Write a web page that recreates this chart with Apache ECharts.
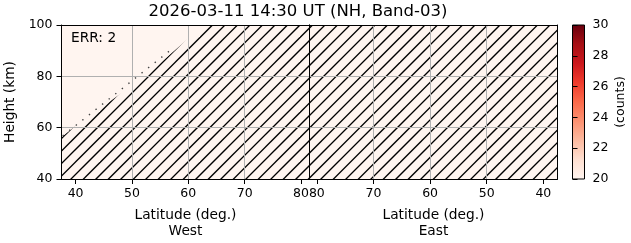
<!DOCTYPE html>
<html><head><meta charset="utf-8">
<script src="https://cdn.jsdelivr.net/npm/echarts@6/dist/echarts.min.js"></script>
<style>html,body{margin:0;padding:0;background:#fff}#c{width:631px;height:243px}</style>
</head><body><div id="c"></div>
<script>
// ---- data ----
const titleText = '2026-03-11 14:30 UT (NH, Band-03)';
const errText = 'ERR: 2';
const latTicks = [40, 50, 60, 70, 80];
const heightTicks = [40, 60, 80, 100];
const countTicks = [20, 22, 24, 26, 28, 30];
const countRange = [20, 30];
const fieldCounts = 20;
const westLatRange = [37.5, 81.5];
const eastLatRange = [37.5, 81.3];
const heightRange = [40, 100];
// upper edge of the no-data (hatched) area in the West panel
const westGapLat = [37.5, 39.6, 52.3, 62.8];
const westGapHeight = [56.3, 60, 80, 100];
// dotted trace in the West panel
const dotLat = [37.7, 57.3];
const dotHeight = [56.8, 91.0];
const redsStops = ['#fff5f0','#fee0d2','#fcbba1','#fc9272','#fb6a4a','#ef3b2c','#cb181d','#a50f15','#67000d'];

// ---- helpers ----
const FONT = 'DejaVu Sans';
function hexToRgb(h){return [parseInt(h.slice(1,3),16),parseInt(h.slice(3,5),16),parseInt(h.slice(5,7),16)];}
function redsColor(v){
  let t=(v-countRange[0])/(countRange[1]-countRange[0]); t=Math.max(0,Math.min(1,t));
  const p=t*(redsStops.length-1); const i=Math.min(Math.floor(p),redsStops.length-2); const f=p-i;
  const a=hexToRgb(redsStops[i]), b=hexToRgb(redsStops[i+1]);
  return 'rgb('+a.map((x,k)=>Math.round(x+(b[k]-x)*f)).join(',')+')';
}
function makeHatch(){
  const c=document.createElement('canvas'); c.width=100; c.height=100;
  const g=c.getContext('2d'); g.strokeStyle='#000'; g.lineWidth=1.3;
  for(let k=-1;k<=17;k++){const s=k*100/8; g.beginPath(); g.moveTo(s+10,-10); g.lineTo(-10,s+10); g.stroke();}
  return c;
}
const hatch={image:makeHatch(),repeat:'repeat'};
const fieldColor=redsColor(fieldCounts);

function rectPoly(api,xr){
  return [api.coord([xr[0],heightRange[0]]),api.coord([xr[0],heightRange[1]]),api.coord([xr[1],heightRange[1]]),api.coord([xr[1],heightRange[0]])];
}

const chart=echarts.init(document.getElementById('c'),null,{renderer:'canvas'});
const gridLine={show:true,lineStyle:{color:'#b0b0b0',width:1},showMinLine:false,showMaxLine:false};
const lab={color:'#000',fontSize:12.5,fontFamily:FONT};
const nameStyle={color:'#000',fontSize:13.75,fontFamily:FONT,lineHeight:16};
function lineOnly(o){return Object.assign({type:'value',axisLine:{show:true,onZero:false,lineStyle:{color:'#000',width:1}},axisTick:{show:false},axisLabel:{show:false},splitLine:{show:false},z:6},o);}

chart.setOption({
  animation:false,
  backgroundColor:'#fff',
  grid:[
    {left:61.5,top:25,width:248,height:154,outerBoundsMode:'none'},
    {left:309.5,top:25,width:248,height:154,outerBoundsMode:'none'},
    {left:572.5,top:25,width:12,height:154,outerBoundsMode:'none'}
  ],
  xAxis:[
    {gridIndex:0,type:'value',position:'bottom',min:westLatRange[0],max:westLatRange[1],
     axisLine:{show:true,onZero:false,lineStyle:{color:'#000',width:1}},
     axisTick:{show:true,inside:false,length:5,customValues:latTicks,lineStyle:{color:'#000'}},
     axisLabel:Object.assign({customValues:latTicks,margin:8},lab),
     splitLine:gridLine,
     name:'Latitude (deg.)\nWest',nameLocation:'middle',nameGap:28,
     nameTextStyle:nameStyle,z:5},
    lineOnly({gridIndex:0,position:'top',min:westLatRange[0],max:westLatRange[1]}),
    {gridIndex:1,type:'value',position:'bottom',inverse:true,min:eastLatRange[0],max:eastLatRange[1],
     axisLine:{show:true,onZero:false,lineStyle:{color:'#000',width:1}},
     axisTick:{show:true,inside:false,length:5,customValues:latTicks,lineStyle:{color:'#000'}},
     axisLabel:Object.assign({customValues:latTicks,margin:8},lab),
     splitLine:gridLine,
     name:'Latitude (deg.)\nEast',nameLocation:'middle',nameGap:28,
     nameTextStyle:nameStyle,z:5},
    lineOnly({gridIndex:1,position:'top',inverse:true,min:eastLatRange[0],max:eastLatRange[1]}),
    {gridIndex:2,type:'value',min:0,max:1,show:false}
  ],
  yAxis:[
    {gridIndex:0,type:'value',position:'left',min:heightRange[0],max:heightRange[1],interval:20,
     axisLine:{show:true,onZero:false,lineStyle:{color:'#000',width:1}},
     axisTick:{show:true,inside:false,length:5,lineStyle:{color:'#000'}},
     axisLabel:Object.assign({margin:9},lab),
     splitLine:gridLine,
     name:'Height (km)',nameLocation:'middle',nameGap:43,nameRotate:90,
     nameTextStyle:nameStyle,z:5},
    lineOnly({gridIndex:0,position:'right',min:heightRange[0],max:heightRange[1]}),
    {gridIndex:1,type:'value',position:'left',min:heightRange[0],max:heightRange[1],interval:20,
     axisLine:{show:true,onZero:false,lineStyle:{color:'#000',width:1}},
     axisTick:{show:false},axisLabel:{show:false},splitLine:gridLine,z:5},
    lineOnly({gridIndex:1,position:'right',min:heightRange[0],max:heightRange[1]}),
    {gridIndex:2,type:'value',position:'right',min:countRange[0],max:countRange[1],interval:2,
     axisLine:{show:false},
     axisTick:{show:true,inside:false,length:5,lineStyle:{color:'#000'}},
     axisLabel:Object.assign({margin:8},lab),
     splitLine:{show:false},
     name:'(counts)',nameLocation:'middle',nameGap:30,nameRotate:90,
     nameTextStyle:{color:'#000',fontSize:12.5,fontFamily:FONT},z:5}
  ],
  series:[
    {type:'custom',xAxisIndex:0,yAxisIndex:0,clip:true,z:1,data:[[0]],
     renderItem:(p,api)=>({type:'polygon',shape:{points:rectPoly(api,westLatRange)},style:{fill:fieldColor}})},
    {type:'custom',xAxisIndex:2,yAxisIndex:2,clip:true,z:1,data:[[0]],
     renderItem:(p,api)=>({type:'polygon',shape:{points:rectPoly(api,eastLatRange)},style:{fill:fieldColor}})},
    {type:'custom',xAxisIndex:0,yAxisIndex:0,clip:true,z:2,data:[[0]],
     renderItem:(p,api)=>{
       const pts=[api.coord([westLatRange[0],heightRange[0]])];
       westGapLat.forEach((la,i)=>pts.push(api.coord([la,westGapHeight[i]])));
       pts.push(api.coord([westLatRange[1],heightRange[1]]));
       pts.push(api.coord([westLatRange[1],heightRange[0]]));
       return {type:'polygon',shape:{points:pts},style:{fill:hatch}};
     }},
    {type:'custom',xAxisIndex:2,yAxisIndex:2,clip:true,z:2,data:[[0]],
     renderItem:(p,api)=>({type:'polygon',shape:{points:rectPoly(api,eastLatRange)},style:{fill:hatch}})},
    {type:'line',xAxisIndex:0,yAxisIndex:0,z:3,symbol:'none',silent:true,
     data:dotLat.map((la,i)=>[la,dotHeight[i]]),
     lineStyle:{color:'#444',width:1.4,type:[1.4,7]}},
    {type:'custom',xAxisIndex:4,yAxisIndex:4,z:2,data:[[0]],
     renderItem:(p,api)=>{
       const a=api.coord([0,countRange[0]]), b=api.coord([1,countRange[1]]);
       return {type:'rect',shape:{x:a[0],y:b[1],width:b[0]-a[0],height:a[1]-b[1]},
         style:{stroke:'#000',lineWidth:1,fill:{type:'linear',x:0,y:1,x2:0,y2:0,
           colorStops:redsStops.map((c,i)=>({offset:i/(redsStops.length-1),color:c}))}}};
     }}
  ],
  graphic:[
    {type:'text',x:298,y:12,z:10,style:{text:titleText,fill:'#000',font:'16.5px "DejaVu Sans"',textAlign:'center',textVerticalAlign:'middle'}},
    {type:'text',x:71,y:38.5,z:10,style:{text:errText,fill:'#000',font:'13.75px "DejaVu Sans"',textAlign:'left',textVerticalAlign:'middle'}}
  ]
});
</script>
</body></html>
